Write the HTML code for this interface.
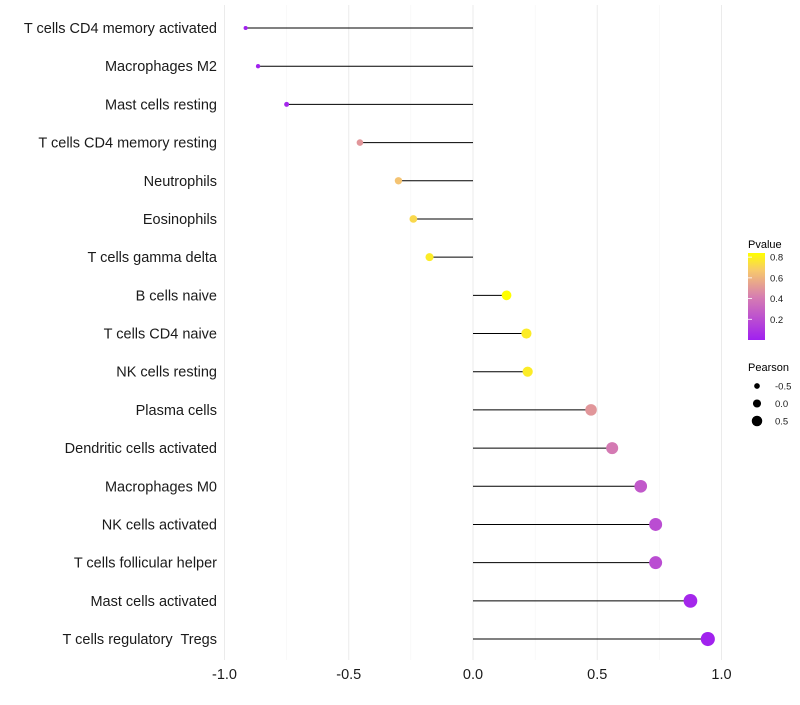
<!DOCTYPE html>
<html><head><meta charset="utf-8"><style>
body{margin:0;background:#fff;font-family:"Liberation Sans",sans-serif;}
#ylabels text{white-space:pre;}
</style></head><body>
<svg id="chart" width="800" height="700" xmlns="http://www.w3.org/2000/svg">
<g id="grid"></g>
<g id="marks"></g>
<g id="ylabels"></g>
<g id="xlabels"></g>
<g>
<defs><linearGradient id="pg" x1="0" y1="1" x2="0" y2="0">
<stop offset="0" stop-color="#a020f0"/><stop offset="0.5" stop-color="#d77fb0"/><stop offset="0.8" stop-color="#f7c96c"/><stop offset="1" stop-color="#ffff00"/></linearGradient></defs>
<text x="748" y="248" font-size="11">Pvalue</text>
<rect x="748" y="253" width="17" height="87" fill="url(#pg)"/>
<g id="cbticks"></g>
<text x="748" y="371" font-size="11">Pearson</text>
<g id="sizeleg"></g>
</g>
</svg>
<script>
const categories=["T cells CD4 memory activated","Macrophages M2","Mast cells resting","T cells CD4 memory resting","Neutrophils","Eosinophils","T cells gamma delta","B cells naive","T cells CD4 naive","NK cells resting","Plasma cells","Dendritic cells activated","Macrophages M0","NK cells activated","T cells follicular helper","Mast cells activated","T cells regulatory  Tregs"];
const pearson=[-0.915,-0.865,-0.75,-0.455,-0.30,-0.24,-0.175,0.135,0.215,0.22,0.475,0.56,0.675,0.735,0.735,0.875,0.945];
const pvalue=[0.005,0.01,0.03,0.5,0.65,0.72,0.78,0.84,0.78,0.78,0.5,0.4,0.25,0.2,0.2,0.03,0.01];
const xTicks=[-1,-0.5,0,0.5,1];
const xTickLabels=["-1.0","-0.5","0.0","0.5","1.0"];
const cbTicks=[0.2,0.4,0.6,0.8];
const sizeLegend=[-0.5,0,0.5];
const NS="http://www.w3.org/2000/svg";
const xs=v=>473+v*248.5;
const ys=i=>28+i*38.19;
const rs=v=>4.5+2.7*v;
const cbY=p=>340-p*(340-253)/0.84;
function col(p){const t=Math.max(0,Math.min(1,p/0.84));
 const st=[[0,[160,32,240]],[0.5,[215,127,176]],[0.8,[247,201,108]],[1,[255,255,0]]];
 for(let k=1;k<st.length;k++){if(t<=st[k][0]){const a=st[k-1],b=st[k],f=(t-a[0])/(b[0]-a[0]);
 return "rgb("+a[1].map((c,j)=>Math.round(c+(b[1][j]-c)*f)).join(",")+")";}}return "rgb(255,255,0)";}
function mk(tag,at,parent){const e=document.createElementNS(NS,tag);for(const k in at)e.setAttribute(k,at[k]);document.getElementById(parent).appendChild(e);return e;}
for(let v=-1;v<=1.001;v+=0.25){const major=Math.abs(v*2-Math.round(v*2))<1e-6;
 const l=mk("line",{x1:xs(v),x2:xs(v),y1:5,y2:660,stroke:major?"#ebebeb":"#f5f5f5","stroke-width":major?1:0.6},"grid");
 
 }
categories.forEach((c,i)=>{
 const t=mk("text",{x:217,y:ys(i)+5,"text-anchor":"end","font-size":"14.5",fill:"#1a1a1a","xml:space":"preserve"},"ylabels");t.textContent=c;
 
 
 const s=mk("line",{x1:xs(0),x2:xs(pearson[i]),y1:ys(i),y2:ys(i),stroke:"#000","stroke-width":1},"marks");
 
 
 const d=mk("circle",{cx:xs(pearson[i]),cy:ys(i),r:rs(pearson[i]),fill:col(pvalue[i])},"marks");
 
 
});
xTicks.forEach((v,i)=>{const t=mk("text",{x:xs(v),y:679,"text-anchor":"middle","font-size":"14.5",fill:"#1a1a1a"},"xlabels");t.textContent=xTickLabels[i];
 
 });
cbTicks.forEach(p=>{const y=cbY(p);
 const l=mk("line",{x1:748,x2:752,y1:y,y2:y,stroke:"#fff","stroke-width":0.8},"cbticks");
 
 
 const t=mk("text",{x:770,y:y+3.5,"font-size":"9.5",fill:"#1a1a1a"},"cbticks");t.textContent=p.toFixed(1);
 
 });
sizeLegend.forEach((v,i)=>{const y=386+i*17.5;
 const c=mk("circle",{cx:757,cy:y,r:rs(v)*0.9,fill:"#000"},"sizeleg");
 
 
 const t=mk("text",{x:775,y:y+3.5,"font-size":"9.5",fill:"#1a1a1a"},"sizeleg");t.textContent=v.toFixed(1);
 
 });
</script>
</body></html>
